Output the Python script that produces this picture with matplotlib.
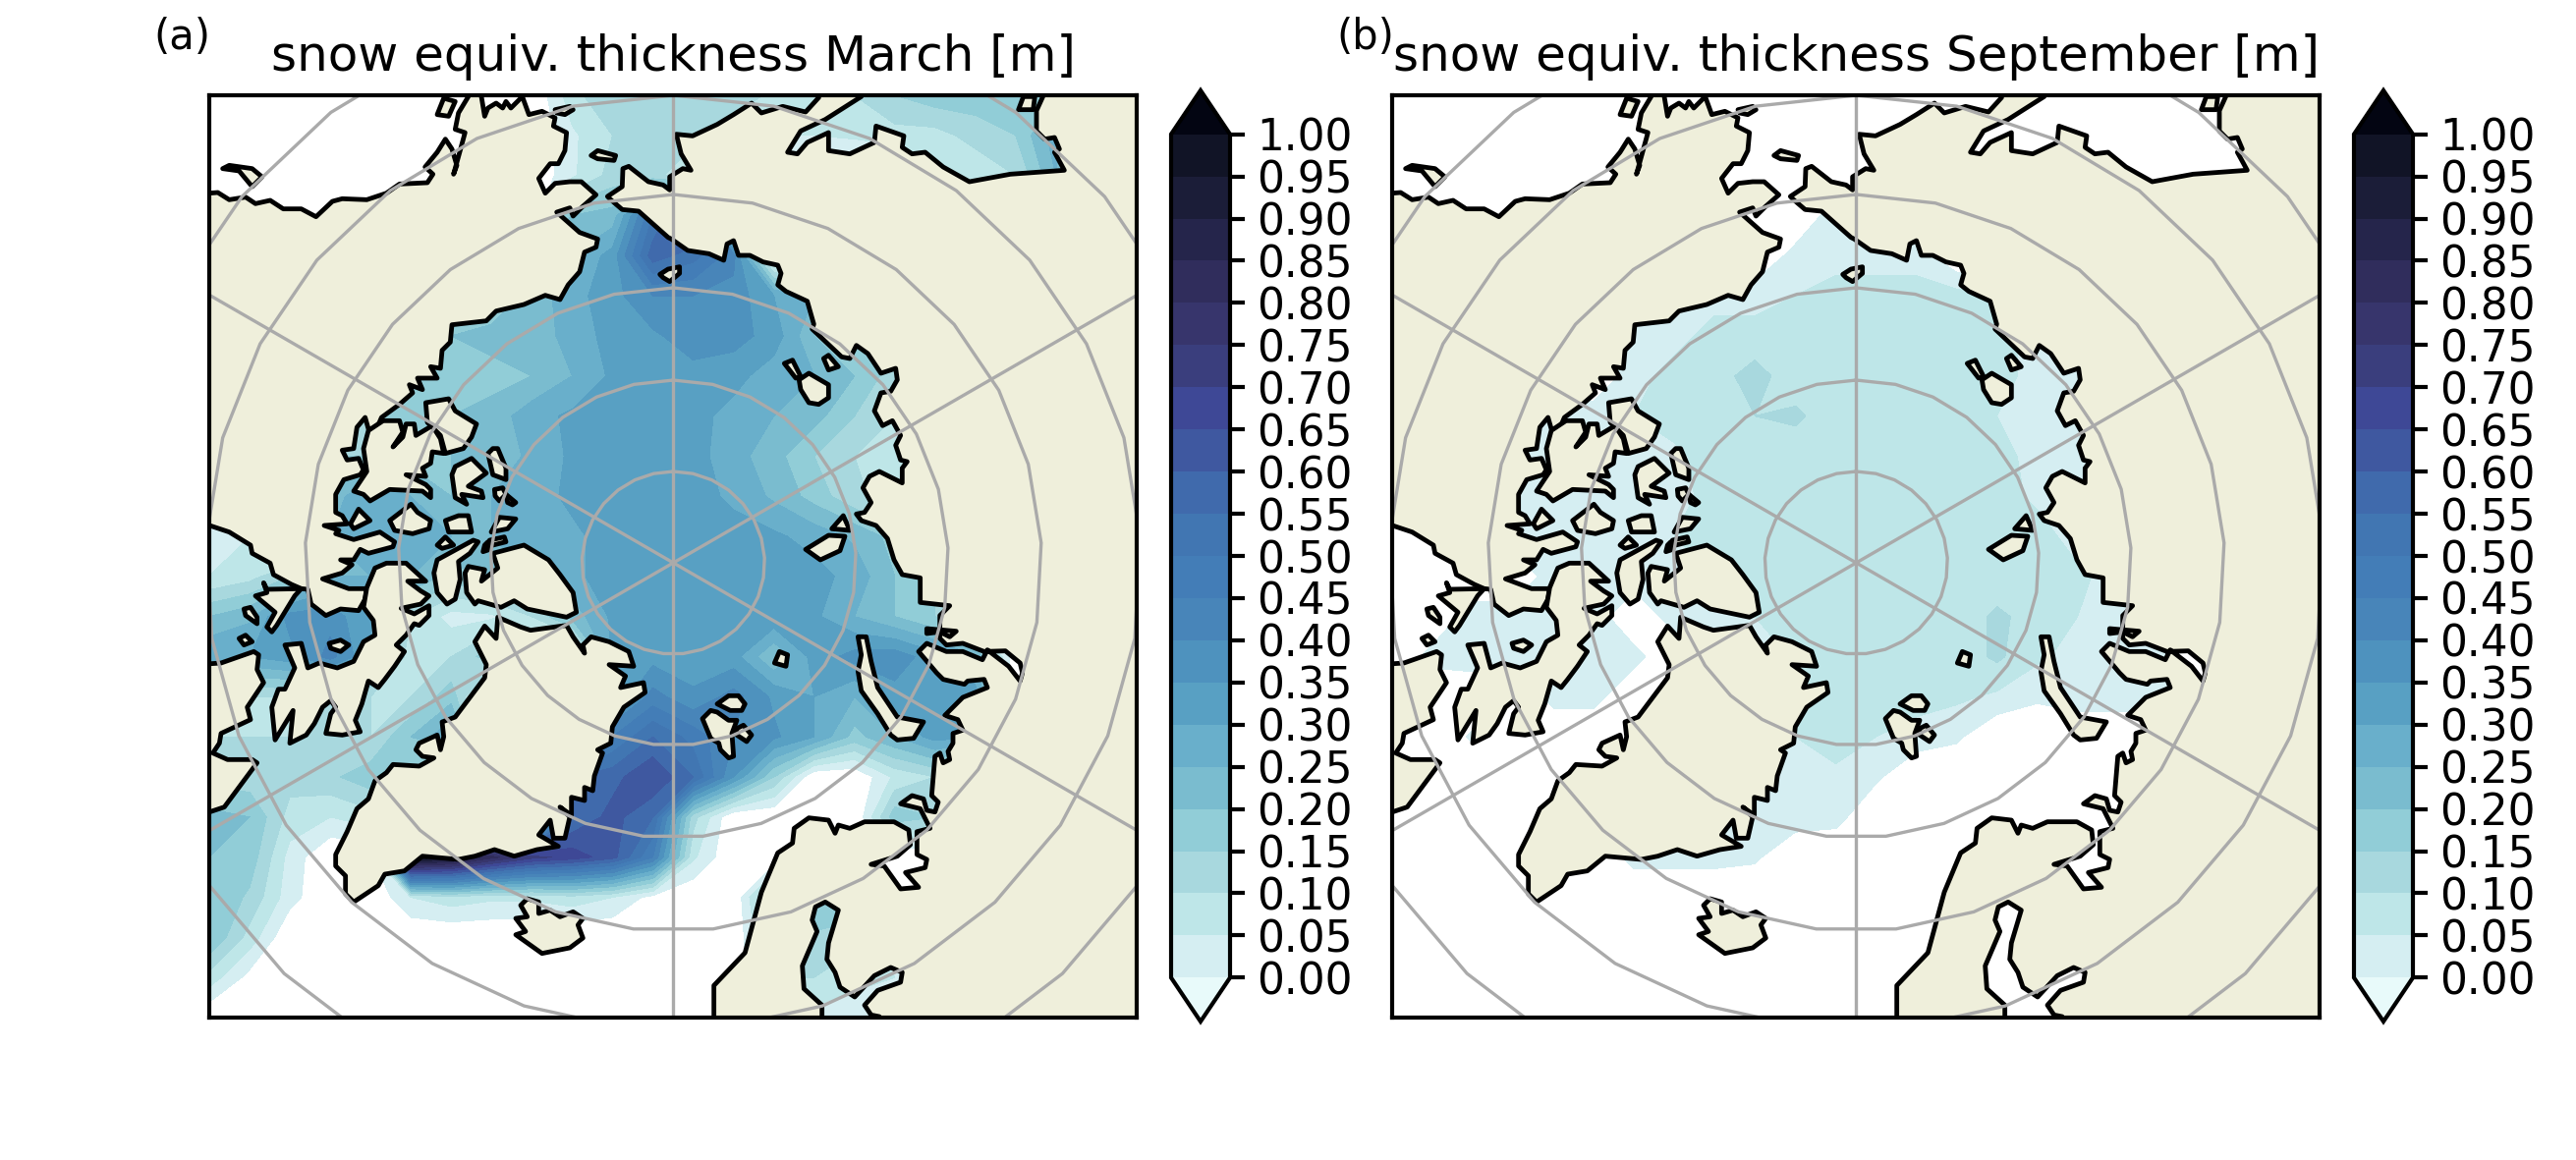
import matplotlib
matplotlib.use("Agg")
import matplotlib.pyplot as plt
import numpy as np
from matplotlib.colors import BoundaryNorm, ListedColormap
from matplotlib.cm import ScalarMappable
from matplotlib.patches import Polygon

E = -5  # no snow, stays white

# snow thickness, in cm, 24 rows x 24 columns (top row first)
snow_march = [
    [E]*9 + [8, 15, 15, 15, 15, 8, 8, 10, 15, 18, 18, 18, 20, E, E],
    [E]*9 + [4, 10, 15, 12, 5, 5, 5, 6, 8, 8, 12, 15, 28, E, E],
    [E]*9 + [4, 12, 12, 5, E, E, E, E, E, 5, 6, 10, 25, E, E],
    [E]*9 + [20, 22, 50, 65, E, E, E, E, E, 5, 5, 8, 15, E, E],
    [E]*8 + [20, 25, 32, 58, 52, 42] + [E]*10,
    [E]*7 + [15, 22, 28, 33, 40, 40, 38, 30, 25] + [E]*8,
    [E]*5 + [15, 20, 22, 22, 27, 32, 34, 38, 37, 33, 20, 15] + [E]*7,
    [E]*5 + [18, 20, 18, 20, 25, 31, 33, 33, 32, 27, 25, 20, 12] + [E]*6,
    [E]*4 + [15, 18, 20, 22, 28, 31, 33, 33, 32, 28, 25, 22, 15, 10] + [E]*6,
    [E]*3 + [15, 15, 18, 20, 22, 26, 31, 32, 32, 32, 27, 22, 15, 10, 5, 5] + [E]*5,
    [E]*3 + [22, 30, 25, 20, 25, 28, 31, 32, 33, 32, 29, 24, 18, 11, 8, 8] + [E]*5,
    [3, 5, E, 25, 28, 28, 25, 25, 27, 29, 32, 32, 32, 32, 31, 28, 24, 18, 15] + [E]*5,
    [5, 8, 15, 25, 25, 25, 18, 20, 25, 29, 32, 32, 32, 33, 33, 32, 28, 20, 15] + [E]*5,
    [20, 24, 37, 38, 30, 10, 3, 4, 10, 22, 31, 32, 32, 32, 34, 31, 25, 20, 15] + [E]*5,
    [30, 30, 33, 42, 30, 6, 10, 18, E, E, 31, 33, 32, 32, 20, 32, 37, 38, 32, 25] + [E]*4,
    [E, 10, 10, 12, 10, 10, 18, E, E, E, 30, 42, 36, 42, 34, 30, 25, 33, 35, 32] + [E]*4,
    [10, 10, 10, 12, 10, 20, 30, E, E, E, 45, 55, 48, 40, 36, 30, 18, 25, 32, 30] + [E]*4,
    [12, 12, 12, 14, 18, 18, E, E, E, 55, 58, 65, 55, 35, 15, E, E, 6, 10] + [E]*5,
    [22, 20, 8, 5, 8, E, E, E, E, 55, 62, 55, 12, E, E, E, E, 18, 15] + [E]*5,
    [20, 18, 3, E, E, 100, 95, 82, 72, 68, 62, 45, 6] + [E]*11,
    [20, 14, 2, E, E, 5, 8, 6, 6, 8, 5, -2, E, E, 20, 20, 20] + [E]*7,
    [20, 8] + [E]*12 + [14, 14, 12] + [E]*7,
    [8, -2] + [E]*12 + [10, 10, 6, 5] + [E]*6,
    [E]*14 + [3, 3, 3, 3] + [E]*6,
]

snow_september = [
    [E]*24,
    [E]*24,
    [E]*24,
    [E]*11 + [3, 3] + [E]*11,
    [E]*10 + [2, 3, 3, 3] + [E]*10,
    [E]*8 + [3, 3, 5, 7, 7, 7, 7, 7] + [E]*8,
    [E]*6 + [3, 3, 7, 7, 7, 7, 7, 7, 7, 7, 3] + [E]*7,
    [E]*6 + [3, 7, 8, 12, 7, 7, 7, 7, 7, 7, 3, 3] + [E]*6,
    [E]*4 + [3, 3, 5, 7, 7, 10, 11, 7, 7, 7, 7, 5, 3, 3] + [E]*6,
    [E]*3 + [3, 3, 3, 3, 4, 7, 7, 7, 7, 7, 7, 7, 7, 3, 3] + [E]*6,
    [E]*3 + [3, 3, 3, 3, 3, 7, 7, 7, 7, 7, 7, 7, 7, 4, 3] + [E]*6,
    [E]*3 + [3, 3, 3, 3, 5, 10, 9, 7, 7, 7, 7, 7, 7, 7, 3] + [E]*6,
    [E]*4 + [3, 3, 3, 3, 5, 9, 7, 7, 7, 7, 7, 7, 7, 6, 3] + [E]*5,
    [E, E, 3, 3, 3, 3, E, 3, 3, 5, 10, 7, 7, 7, 7, 11, 8, 5, 3] + [E]*5,
    [E, 2, 3, 3, 3, 3, 2, E, E, E, 7, 7, 7, 7, 7, 11, 6, 3, 3, 3] + [E]*4,
    [E]*4 + [2, 2] + [E]*4 + [5, 7, 7, 7, 6, 4, 1, 3, 3, 3] + [E]*4,
    [E, E, 1] + [E]*7 + [5, 7, 5, 3, 1] + [E]*9,
    [E]*9 + [3, 5, 4, 1] + [E]*11,
    [E]*9 + [3, 3, 2] + [E]*12,
    [E]*6 + [2, 2, 2, 1] + [E]*14,
    [E]*24,
    [E]*24,
    [E]*24,
    [E]*24,
]


# coast outlines were traced in four overlapping pieces of the map
def nw(pts):
    return list(pts)


def ne(pts):
    return [(x + 1440, y) for x, y in pts]


def sw(pts):
    return [(x, y + 1410) for x, y in pts]


def se(pts):
    return [(x + 1440, y + 1410) for x, y in pts]


eurasia = (
    nw([(1255, 330), (1265, 340), (1300, 370), (1350, 375), (1440, 455)])
    + ne([(10, 460), (60, 495), (125, 505), (170, 525), (180, 475), (200, 465), (215, 510), (250, 510),
          (290, 530), (335, 540), (345, 565), (335, 600), (360, 620), (425, 650), (445, 720), (440, 735),
          (530, 820), (555, 825), (575, 785), (610, 810), (650, 870), (695, 855), (700, 890), (680, 925),
          (650, 930), (630, 985), (655, 1030), (685, 1015), (710, 1060), (695, 1090), (710, 1135),
          (730, 1140), (715, 1160), (715, 1205), (645, 1170), (615, 1185), (595, 1220), (620, 1265),
          (600, 1295), (575, 1300), (590, 1320), (635, 1335), (670, 1375), (690, 1440)])
    + se([(715, 75), (770, 85), (770, 160), (860, 170), (830, 200), (830, 270), (850, 290), (900, 285),
          (965, 310), (1030, 308), (1075, 345), (1082, 375), (1075, 400), (1040, 355), (975, 305),
          (960, 335), (900, 310), (850, 310), (790, 285), (765, 310), (820, 375), (840, 395), (905, 410),
          (915, 400), (965, 395), (975, 420), (900, 450), (845, 505), (885, 518), (900, 550), (870, 560),
          (870, 590), (855, 615), (860, 640), (840, 650), (830, 620), (815, 630), (805, 750), (825, 770),
          (815, 800), (790, 795), (780, 760), (745, 750), (710, 775), (770, 790), (800, 850), (760, 860),
          (760, 930), (790, 945), (785, 970), (725, 985), (765, 1030), (710, 1035), (660, 965), (620, 960),
          (700, 935), (740, 900), (735, 855), (690, 830), (600, 830), (555, 850), (520, 840), (510, 865),
          (490, 825), (430, 818), (385, 850), (380, 895), (335, 925), (285, 1045), (235, 1230), (140, 1330),
          (140, 1500), (470, 1500), (470, 1390), (415, 1340), (410, 1270), (455, 1165), (440, 1130),
          (450, 1090), (480, 1075), (520, 1100), (490, 1200), (485, 1250), (510, 1290), (525, 1335),
          (570, 1365), (630, 1300), (680, 1275), (715, 1290), (710, 1320), (640, 1345), (600, 1390),
          (620, 1420), (645, 1425), (645, 1500), (1500, 1500), (1500, -1460)])
    + ne([(1165, -20), (1125, 68), (1125, 130), (1150, 155), (1180, 150), (1195, 185), (1180, 195),
          (1210, 250), (1045, 262), (920, 285), (840, 240), (785, 195), (745, 200), (715, 180), (720, 145),
          (635, 115), (630, 165), (555, 200), (490, 190), (490, 135), (425, 165), (395, 200), (365, 195),
          (405, 130), (480, 95), (590, 25), (590, -50), (460, -50), (460, 28), (420, 72), (350, 55),
          (285, 75), (255, 45), (200, 80), (150, 110), (75, 145), (25, 140), (40, 200), (70, 250),
          (45, 245), (5, 270), (5, 310)])
    + nw([(1425, 295), (1380, 285), (1320, 238), (1302, 245), (1300, 300)])
)

north_america = (
    nw([(0, 320), (40, 320), (65, 318), (100, 340), (150, 332), (180, 352), (225, 342), (265, 368),
        (320, 368), (365, 392), (415, 345), (445, 337), (520, 340), (580, 320), (620, 292), (705, 288),
        (722, 262), (698, 240), (735, 195), (760, 155), (780, 185), (795, 235), (785, 262), (805, 190),
        (820, 135), (790, 125), (800, 75), (830, 25), (830, -20), (870, -20), (870, 25), (880, 85),
        (890, 60), (915, 45), (935, 60), (945, 40), (960, 60), (995, 25), (1015, 80), (1055, 70),
        (1095, 90), (1090, 115), (1130, 135), (1125, 190), (1105, 230), (1080, 230), (1045, 275),
        (1065, 320), (1095, 290), (1140, 285), (1175, 285), (1220, 325), (1180, 360), (1150, 390),
        (1140, 365), (1100, 378), (1170, 440), (1225, 460), (1220, 485), (1185, 500), (1170, 560),
        (1135, 600), (1110, 645), (1065, 632), (1000, 660), (915, 680), (885, 710), (780, 722),
        (775, 775), (750, 800), (745, 855), (715, 850), (735, 885), (675, 885), (690, 920), (650, 905),
        (660, 930), (620, 965), (565, 1005), (550, 1040), (525, 1040), (515, 1005), (490, 1035),
        (480, 1100), (445, 1105), (460, 1135), (495, 1130), (510, 1165), (500, 1180), (450, 1195),
        (425, 1240), (425, 1295), (445, 1305), (460, 1330), (390, 1335), (435, 1350), (425, 1360),
        (480, 1378), (560, 1355), (605, 1385), (600, 1400), (525, 1420), (500, 1408), (480, 1440)])
    + sw([(440, 30), (475, 45), (445, 70), (385, 88), (465, 118), (520, 118), (515, 150), (495, 185),
          (440, 180), (395, 200), (350, 165), (340, 120), (320, 118), (290, 105), (235, 75), (225, 40),
          (170, 10)])
    + nw([(165, 1395), (100, 1355), (40, 1335), (0, 1335)])
)

labrador = sw([(545, 55), (580, 40), (640, 40), (700, 95), (645, 95), (685, 125), (710, 140), (685, 165),
               (625, 178), (665, 195), (710, 170), (710, 200), (680, 230), (665, 225), (640, 260), (610, 290),
               (635, 310), (605, 355), (575, 395), (555, 420), (525, 400), (505, 470), (485, 520), (500, 555),
               (445, 565), (395, 560), (410, 500), (425, 480), (410, 460), (385, 480), (360, 530), (335, 565),
               (285, 590), (295, 490), (240, 580), (230, 480), (250, 425), (270, 425), (300, 360), (270, 290),
               (320, 285), (340, 360), (375, 345), (430, 360), (480, 340), (510, 280), (545, 260), (540, 215),
               (510, 175), (520, 115)])

west_land = sw([(0, 350), (75, 345), (175, 310), (190, 320), (185, 365), (205, 405), (155, 480), (165, 518),
                (75, 560), (70, 590), (50, 620), (95, 640), (170, 640), (185, 650), (85, 785), (40, 800), (0, 800)])

greenland = sw([(920, 205), (915, 270), (880, 232), (850, 280), (885, 350), (880, 390), (790, 510), (750, 525),
                (755, 570), (745, 610), (735, 565), (680, 590), (670, 610), (690, 630), (725, 635), (680, 660),
                (600, 655), (580, 680), (545, 705), (525, 760), (490, 790), (460, 860), (425, 930), (425, 965),
                (455, 995), (455, 1050), (480, 1075), (555, 1025), (575, 990), (635, 980), (690, 935), (800, 945),
                (850, 935), (910, 915), (970, 935), (1040, 915), (1105, 905), (1045, 870), (1080, 825), (1090, 880),
                (1125, 880), (1140, 815), (1110, 785), (1145, 810), (1145, 755), (1185, 765), (1185, 725),
                (1210, 735), (1215, 690), (1240, 620), (1225, 610), (1265, 590), (1270, 540), (1305, 480),
                (1370, 435), (1365, 405), (1295, 420), (1310, 385), (1260, 350), (1335, 355), (1320, 310),
                (1260, 280), (1205, 265), (1180, 290), (1185, 315), (1150, 265), (1130, 230), (1020, 245),
                (990, 235)])

iceland = sw([(990, 1085), (1010, 1065), (1045, 1075), (1045, 1110), (1080, 1100), (1110, 1120), (1150, 1105),
              (1180, 1125), (1165, 1145), (1180, 1185), (1140, 1215), (1055, 1232), (975, 1175), (1005, 1165),
              (975, 1125), (1010, 1120)])

islands = [
    nw([(570, 1015), (620, 1015), (630, 1050), (600, 1095), (630, 1065), (640, 1025), (665, 1025), (670, 1060),
        (720, 1030), (745, 1070), (755, 1115), (720, 1110), (715, 1145), (690, 1160), (700, 1185), (640, 1180),
        (700, 1210), (715, 1225), (715, 1250), (690, 1230), (590, 1225), (530, 1260), (510, 1240), (480, 1230),
        (520, 1170), (510, 1100), (525, 1045)]),
    nw([(700, 960), (770, 948), (790, 985), (855, 1025), (840, 1065), (815, 1100), (760, 1115), (745, 1060),
        (705, 1020)]),
    nw([(905, 1100), (920, 1100), (945, 1160), (945, 1195), (905, 1180), (890, 1115)]),
    nw([(790, 1155), (840, 1130), (885, 1175), (830, 1215), (870, 1230), (875, 1250), (810, 1240), (825, 1270),
        (790, 1250), (780, 1180)]),
    nw([(910, 1225), (935, 1220), (945, 1240), (925, 1260), (912, 1245)]),
    nw([(945, 1240), (975, 1265), (965, 1272), (950, 1265)]),
    nw([(590, 1320), (655, 1270), (675, 1295), (715, 1320), (710, 1345), (660, 1360), (605, 1350)]),
    nw([(470, 1330), (495, 1285), (530, 1320), (480, 1345)]),
    nw([(760, 1320), (800, 1305), (830, 1305), (840, 1355), (770, 1355)]),
    nw([(735, 1395), (760, 1370), (785, 1395), (750, 1405)]),
    nw([(735, 1440), (845, 1380), (860, 1385), (835, 1420), (800, 1445), (805, 1500), (790, 1560), (765, 1575),
        (735, 1540), (725, 1480)]),
    nw([(880, 1395), (890, 1385), (890, 1410), (875, 1415)]),
    nw([(895, 1380), (940, 1370), (945, 1385), (905, 1395)]),
    nw([(925, 1310), (975, 1315), (950, 1345), (900, 1355)]),
    sw([(825, 130), (820, 70), (830, 50), (880, 60), (870, 95), (920, 55), (905, 10), (1000, -15), (1050, 15),
        (1075, 30), (1110, 75), (1150, 130), (1160, 190), (1130, 205), (1010, 180), (970, 155), (930, 175),
        (860, 155), (850, 165)]),
    sw([(145, 180), (165, 175), (185, 205), (185, 225), (150, 200)]),
    sw([(130, 270), (150, 260), (170, 280), (145, 290)]),
    sw([(405, 285), (440, 275), (465, 290), (440, 310), (410, 300)]),
    sw([(205, 100), (215, 120), (320, 118), (300, 140), (245, 230), (230, 250), (215, 235), (240, 190), (180, 140),
        (215, 130)]),
    nw([(735, 80), (755, 30), (790, 40), (770, 85)]),
    nw([(80, 245), (100, 235), (170, 245), (200, 270), (170, 300), (130, 252)]),
    nw([(1205, 205), (1225, 190), (1280, 205), (1275, 220), (1225, 215)]),
    nw([(1095, 65), (1140, 55), (1150, 65), (1125, 80), (1100, 75)]),
    nw([(1415, 568), (1440, 552), (1475, 545), (1475, 565), (1445, 590), (1425, 578)]),
    ne([(355, 840), (380, 830), (405, 880), (390, 885)]),
    ne([(400, 890), (430, 870), (490, 905), (490, 945), (460, 965), (430, 960), (405, 920)]),
    ne([(475, 825), (490, 815), (520, 850), (490, 860)]),
    ne([(420, 1408), (490, 1365), (540, 1368), (525, 1412), (465, 1440)]),
    ne([(500, 1345), (535, 1305), (555, 1350)]),
    ne([(1070, 65), (1085, 25), (1120, 25), (1115, 65)]),
    se([(580, 265), (605, 265), (620, 340), (640, 420), (700, 510), (780, 525), (750, 575), (700, 580), (680, 565),
        (640, 500), (590, 430), (580, 370), (590, 320)]),
    se([(325, 345), (340, 310), (365, 320), (360, 355)]),
    se([(105, 515), (130, 490), (150, 495), (185, 520), (210, 520), (195, 560), (200, 630), (185, 635), (160, 610),
        (155, 590), (130, 575)]),
    se([(150, 470), (185, 445), (215, 445), (235, 470), (225, 490), (190, 490)]),
    se([(210, 545), (230, 535), (255, 565), (240, 585), (210, 565)]),
    se([(790, 240), (880, 248), (860, 265), (830, 250), (790, 255)]),
]

lands = [eurasia, north_america, labrador, west_land, greenland, iceland] + islands

titles = ["snow equiv. thickness March [m]", "snow equiv. thickness September [m]"]
panel_labels = ["(a)", "(b)"]
levels = [round(0.05 * i, 2) for i in range(21)]
tick_labels = [f"{v:.2f}" for v in levels]
band_colors = [(213, 238, 242), (190, 230, 232), (168, 216, 222), (145, 205, 215), (122, 188, 207),
               (105, 175, 203), (88, 160, 195), (78, 146, 190), (72, 133, 185), (67, 125, 183),
               (65, 118, 178), (64, 106, 172), (63, 88, 160), (62, 72, 150), (58, 62, 125),
               (55, 53, 108), (48, 45, 92), (37, 37, 75), (27, 29, 56), (17, 20, 38)]
circle_radii = [279, 558, 840, 1125, 1428, 1728, 2040]
meridians = [0, 60, 120, 180, 240, 300]

W, H = 2622, 1181
pole = (1456, 1449)
xlim = (39, 2871)
ylim = (2838, 21)

cmap = ListedColormap(np.array(band_colors) / 255).with_extremes(under=(232 / 255, 250 / 255, 250 / 255),
                                                                over=(3 / 255, 5 / 255, 18 / 255))
norm = BoundaryNorm(levels, cmap.N)

fig = plt.figure(figsize=(W / 300, H / 300), dpi=300)


def draw_panel(left, field, title, label):
    ax = fig.add_axes([left / W, 1 - 1036 / H, 944 / W, 939 / H])
    xs = np.linspace(xlim[0], xlim[1], 24)
    ys = np.linspace(ylim[1], ylim[0], 24)
    ax.contourf(xs, ys, np.array(field) / 100, levels=levels, cmap=cmap, norm=norm, extend="max", zorder=1)
    for pts in lands:
        ax.add_patch(Polygon(pts, closed=True, facecolor="#efefdb", edgecolor="black", linewidth=1.15,
                             joinstyle="round", zorder=2))
    # graticule, drawn coarse like the original
    theta = np.deg2rad(np.linspace(0, 360, 30))
    for r in circle_radii:
        ax.plot(pole[0] + r * np.sin(theta), pole[1] - r * np.cos(theta), color="#aaaaaa", lw=0.8, zorder=3)
    for m in meridians:
        a = np.deg2rad(m)
        ax.plot([pole[0], pole[0] + 3000 * np.sin(a)], [pole[1], pole[1] - 3000 * np.cos(a)],
                color="#aaaaaa", lw=0.8, zorder=3)
    ax.set_xlim(xlim)
    ax.set_ylim(ylim)
    ax.set_xticks([])
    ax.set_yticks([])
    for s in ax.spines.values():
        s.set_linewidth(1.0)
        s.set_zorder(5)
    ax.set_title(title, fontsize=12, pad=6)
    fig.text((left - 57) / W, 1 - 50 / H, label, fontsize=10, ha="left", va="baseline")

    # the extension triangles sit inside this box
    cax = fig.add_axes([(left + 979) / W, 1 - 1040 / H, 60 / W, 948 / H])
    cb = fig.colorbar(ScalarMappable(norm=norm, cmap=cmap), cax=cax, extend="both", extendfrac=0.052,
                      spacing="uniform", ticks=levels, drawedges=False)
    cb.ax.set_yticklabels(tick_labels)
    cb.ax.tick_params(labelsize=10.5, length=3.5, width=1.0, pad=3)
    cb.outline.set_linewidth(1.0)


draw_panel(213, snow_march, titles[0], panel_labels[0])
draw_panel(1417, snow_september, titles[1], panel_labels[1])

fig.savefig("out.png", dpi=300, facecolor="white")
